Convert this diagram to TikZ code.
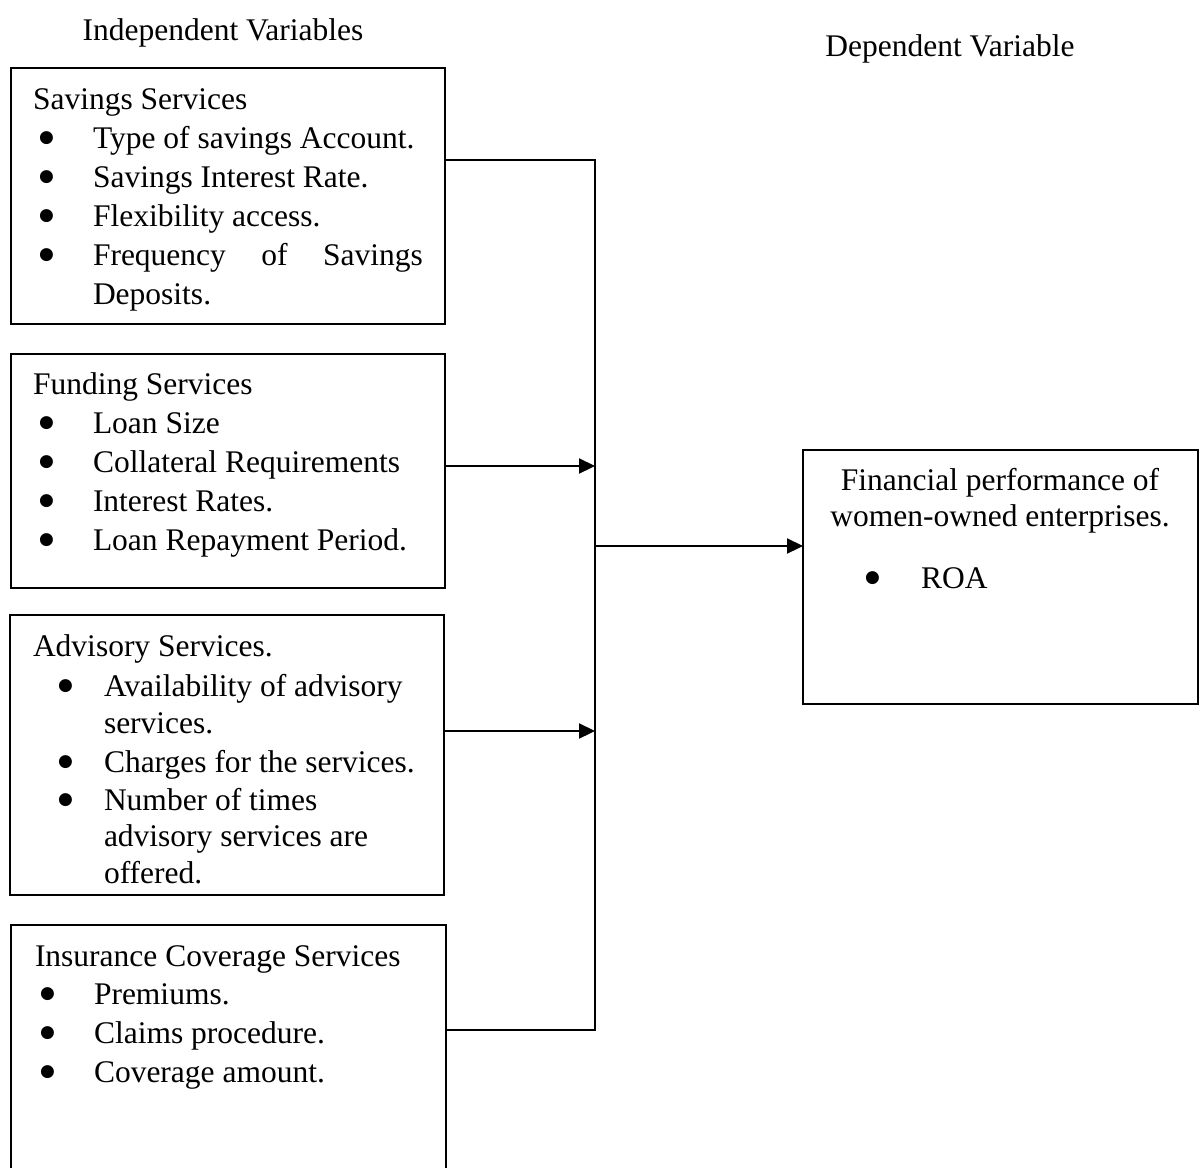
\documentclass[tikz,border=0pt]{standalone}
\usepackage{fontspec}
\setmainfont{Liberation Serif}
\newfontfamily\bulfont{DejaVu Sans}
\usetikzlibrary{arrows.meta}
\newcommand\mybul[1]{\makebox[#1][l]{\hspace*{1pt}\raisebox{5.5pt}{\bulfont\fontsize{17}{18}\selectfont ●}}}
\begin{document}
\begin{tikzpicture}[x=1pt,y=-1pt,
  box/.style={draw=black,line width=2.4pt,inner sep=0pt,outer sep=0pt},
  txt/.style={anchor=base west,inner sep=0pt,outer sep=0pt,font=\fontsize{31.5}{39}\selectfont},
  ctxt/.style={anchor=base,inner sep=0pt,outer sep=0pt,font=\fontsize{31.5}{39}\selectfont},
  thin/.style={line width=1.4pt},
  arr/.style={line width=2.2pt,-{Triangle[length=16pt,width=15pt]}}]
\useasboundingbox (0,0) rectangle (1200,1168);
% titles
\node[ctxt] (ti) at (223,40) {Independent Variables};
\node[ctxt] (td) at (950,56) {Dependent Variable};
% boxes
\node[box,minimum width=434pt,minimum height=256pt,anchor=north west] (b1) at (11,68) {};
\node[box,minimum width=434pt,minimum height=234pt,anchor=north west] (b2) at (11,354) {};
\node[box,minimum width=434pt,minimum height=280pt,anchor=north west] (b3) at (10,615) {};
\node[draw=none,inner sep=0pt,outer sep=0pt,minimum width=435pt,minimum height=243pt,anchor=north west] (b4) at (11,925) {};
\draw[line width=2.4pt] (b4.south west) -- (b4.north west) -- (b4.north east) -- (b4.south east);
\node[box,minimum width=395pt,minimum height=254pt,anchor=north west] (rb) at (803,450) {};
% box 1 text
\node[txt] (s0) at (33,109) {Savings Services};
\node[txt] (s1) at (38,148) {\mybul{55pt}Type of savings Account.};
\node[txt] (s2) at (38,187) {\mybul{55pt}Savings Interest Rate.};
\node[txt] (s3) at (38,226) {\mybul{55pt}Flexibility access.};
\node[txt] (s4) at (38,265) {\mybul{55pt}\makebox[330pt][s]{Frequency of Savings}};
\node[txt] (s5) at (93,304) {Deposits.};
% box 2 text
\node[txt] (f0) at (33,394) {Funding Services};
\node[txt] (f1) at (38,433) {\mybul{55pt}Loan Size};
\node[txt] (f2) at (38,472) {\mybul{55pt}Collateral Requirements};
\node[txt] (f3) at (38,511) {\mybul{55pt}Interest Rates.};
\node[txt] (f4) at (38,550) {\mybul{55pt}Loan Repayment Period.};
% box 3 text
\node[txt] (a0) at (33,656) {Advisory Services.};
\node[txt] (a1) at (57,696) {\mybul{47pt}Availability of advisory};
\node[txt] (a1c) at (104,733) {services.};
\node[txt] (a2) at (57,772) {\mybul{47pt}Charges for the services.};
\node[txt] (a3) at (57,810) {\mybul{47pt}Number of times};
\node[txt] (a3c) at (104,846) {advisory services are};
\node[txt] (a3d) at (104,883) {offered.};
% box 4 text
\node[txt] (i0) at (35,966) {Insurance Coverage Services};
\node[txt] (i1) at (39,1004) {\mybul{55pt}Premiums.};
\node[txt] (i2) at (39,1043) {\mybul{55pt}Claims procedure.};
\node[txt] (i3) at (39,1082) {\mybul{55pt}Coverage amount.};
% right box text
\node[ctxt] (r1) at (1000,490) {Financial performance of};
\node[ctxt] (r2) at (1000,526) {women-owned enterprises.};
\node[txt] (r3) at (864,588) {\mybul{57pt}ROA};
% connectors
\coordinate (jt) at (595,160);
\coordinate (j2) at (595,466);
\coordinate (jm) at (595,546);
\coordinate (j3) at (595,731);
\coordinate (jb) at (595,1030);
\draw[thin] (b1.east |- jt) -- (jt) -- (jb) -- (b4.east |- jb);
\draw[arr] (b2.east |- j2) -- (j2);
\draw[arr] (b3.east |- j3) -- (j3);
\draw[arr] (jm) -- (rb.west |- jm);
\end{tikzpicture}
\end{document}
